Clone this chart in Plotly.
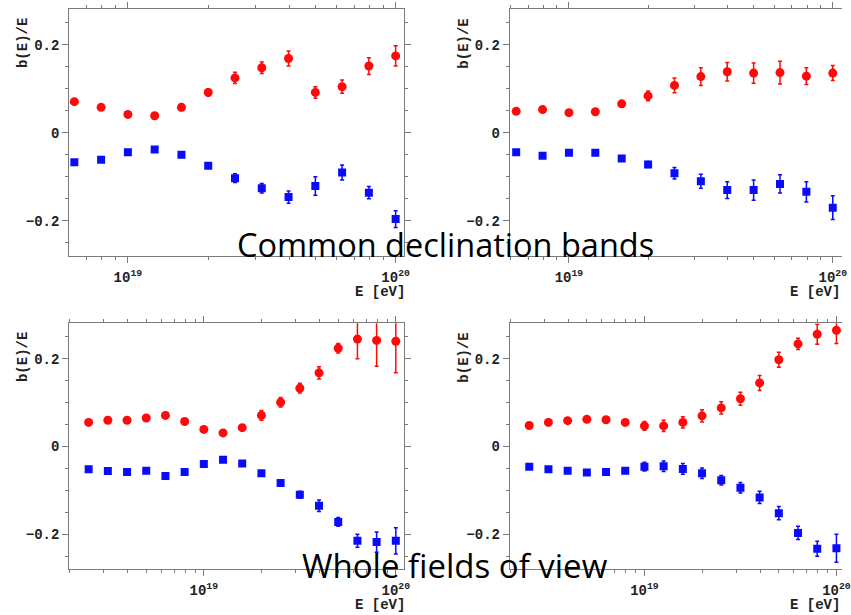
import plotly.graph_objects as go

# ---------------- data ----------------
lg_top = [18.8, 18.9, 19.0, 19.1, 19.2, 19.3, 19.4, 19.5, 19.6, 19.7, 19.8, 19.9, 20.0]
lg_bot = [18.4, 18.5, 18.6, 18.7, 18.8, 18.9, 19.0, 19.1, 19.2, 19.3, 19.4, 19.5, 19.6,
          19.7, 19.8, 19.9, 20.0]

p1_red = [0.071, 0.058, 0.042, 0.039, 0.058, 0.092, 0.125, 0.148, 0.169, 0.092, 0.105, 0.152, 0.175]
p1_red_err = [0.006, 0.006, 0.005, 0.005, 0.007, 0.008, 0.013, 0.013, 0.017, 0.013, 0.015, 0.019, 0.023]
p1_blue = [-0.067, -0.061, -0.044, -0.038, -0.050, -0.075, -0.103, -0.126, -0.146, -0.121, -0.090, -0.136, -0.196]
p1_blue_err = [0.005, 0.006, 0.005, 0.004, 0.005, 0.005, 0.010, 0.011, 0.014, 0.021, 0.017, 0.014, 0.019]

p2_red = [0.049, 0.053, 0.046, 0.048, 0.066, 0.084, 0.108, 0.128, 0.139, 0.136, 0.137, 0.129, 0.136]
p2_red_err = [0.004, 0.004, 0.004, 0.004, 0.006, 0.011, 0.017, 0.020, 0.021, 0.023, 0.026, 0.019, 0.017]
p2_blue = [-0.044, -0.052, -0.045, -0.045, -0.058, -0.072, -0.092, -0.110, -0.130, -0.130, -0.116, -0.134, -0.170]
p2_blue_err = [0.004, 0.004, 0.004, 0.004, 0.005, 0.007, 0.013, 0.016, 0.019, 0.023, 0.021, 0.023, 0.027]

p3_red = [0.055, 0.060, 0.060, 0.065, 0.071, 0.057, 0.039, 0.031, 0.043, 0.071, 0.101, 0.133, 0.168,
          0.224, 0.245, 0.242, 0.240]
p3_red_err = [0.004, 0.004, 0.004, 0.004, 0.004, 0.004, 0.004, 0.004, 0.006, 0.011, 0.011, 0.011, 0.014,
              0.011, 0.045, 0.059, 0.072]
p3_blue = [-0.052, -0.056, -0.058, -0.055, -0.067, -0.058, -0.040, -0.030, -0.039, -0.061, -0.083, -0.110,
           -0.135, -0.172, -0.215, -0.218, -0.215]
p3_blue_err = [0.004, 0.004, 0.004, 0.004, 0.004, 0.004, 0.004, 0.004, 0.004, 0.006, 0.007, 0.008,
               0.013, 0.010, 0.015, 0.023, 0.030]

p4_red = [0.048, 0.055, 0.059, 0.062, 0.061, 0.055, 0.047, 0.047, 0.055, 0.070, 0.088, 0.109, 0.145,
          0.198, 0.234, 0.256, 0.265]
p4_red_err = [0.004, 0.004, 0.004, 0.004, 0.004, 0.006, 0.010, 0.013, 0.013, 0.014, 0.014, 0.015, 0.017,
              0.017, 0.013, 0.023, 0.030]
p4_blue = [-0.046, -0.052, -0.055, -0.059, -0.058, -0.055, -0.046, -0.045, -0.051, -0.061, -0.077, -0.094,
           -0.116, -0.152, -0.197, -0.233, -0.232]
p4_blue_err = [0.004, 0.004, 0.004, 0.004, 0.004, 0.005, 0.010, 0.012, 0.012, 0.012, 0.011, 0.012,
               0.014, 0.015, 0.015, 0.017, 0.032]

x_tickvals = [1e19, 1e20]
x_ticktext = ["10<sup>19</sup>", "10<sup>20</sup>"]
y_tickvals = [-0.2, 0, 0.2]
y_ticktext = ["\u22120.2", "0", "0.2"]
y_title = "b(E)/E"
x_title = "E [eV]"
caption_top = "Common declination bands"
caption_bottom = "Whole fields of view"

RED = "#ff0a0a"
BLUE = "#0a0aff"

W, H = 851, 615

panels = [
    # (lg, red, red_err, blue, blue_err, x0px, x1px, ytop_px, ybot_px, xrange)
    (lg_top, p1_red, p1_red_err, p1_blue, p1_blue_err, 70, 408, 9.3, 256, [18.781, 20.03]),
    (lg_top, p2_red, p2_red_err, p2_blue, p2_blue_err, 515.3, 851, 9.3, 256, [18.776, 20.035]),
    (lg_bot, p3_red, p3_red_err, p3_blue, p3_blue_err, 70, 408, 323.3, 569.3, [18.299, 20.041]),
    (lg_bot, p4_red, p4_red_err, p4_blue, p4_blue_err, 515.3, 851, 323.3, 569.3, [18.299, 20.029]),
]

tickfont = dict(family="Liberation Mono", size=14, color="#222", weight="bold")
axcol = "#7a7a7a"

minor_x = [float(m) * 10.0 ** d for d in (18, 19) for m in range(2, 10)]

fig = go.Figure()
layout = {}
annotations = []
for i, (lg, red, rerr, blue, berr, x0, x1, yt, yb, xr) in enumerate(panels, start=1):
    E = [10.0 ** v for v in lg]
    xa = "x" if i == 1 else f"x{i}"
    ya = "y" if i == 1 else f"y{i}"
    fig.add_trace(go.Scatter(
        x=E, y=red, mode="markers", xaxis=xa, yaxis=ya, showlegend=False,
        marker=dict(symbol="circle", size=9, color=RED),
        error_y=dict(type="data", array=rerr, color=RED, thickness=1.5, width=2)))
    fig.add_trace(go.Scatter(
        x=E, y=blue, mode="markers", xaxis=xa, yaxis=ya, showlegend=False,
        marker=dict(symbol="square", size=8, color=BLUE),
        error_y=dict(type="data", array=berr, color=BLUE, thickness=1.5, width=2)))
    right_edge = x1 >= W
    layout["xaxis" if i == 1 else f"xaxis{i}"] = dict(
        type="log", range=xr, domain=[x0 / W, min(x1 / W, 1.0)], anchor=ya,
        tickvals=x_tickvals, ticktext=x_ticktext,
        ticks="outside", ticklen=6, tickcolor=axcol, tickwidth=1,
        minor=dict(tickvals=minor_x, ticks="outside", ticklen=3, tickcolor=axcol),
        showline=True, linecolor=axcol, linewidth=1.2, mirror="allticks",
        showgrid=False, zeroline=False, tickfont=tickfont,
        ticklabeloverflow="allow", ticklabelstandoff=2)
    layout["yaxis" if i == 1 else f"yaxis{i}"] = dict(
        range=[-0.28, 0.281], domain=[1 - yb / H, 1 - yt / H], anchor=xa,
        tickvals=y_tickvals, ticktext=y_ticktext,
        ticks="outside", ticklen=6, tickcolor=axcol, tickwidth=1,
        minor=dict(dtick=0.05, ticks="outside", ticklen=3, tickcolor=axcol),
        showline=True, linecolor=axcol, linewidth=1.2,
        mirror=False if right_edge else "allticks",
        showgrid=False, zeroline=False, tickfont=tickfont)
    # axis titles
    if right_edge:
        xt_pos, xt_anchor = 796 / W, "left"
    else:
        xt_pos, xt_anchor = (x1 + 3) / W, "right"
    annotations.append(dict(
        text=x_title, xref="paper", yref="paper", showarrow=False,
        x=xt_pos, xanchor=xt_anchor,
        y=1 - (yb + 36) / H, yanchor="middle",
        font=dict(family="Liberation Mono", size=14, color="#222", weight="bold")))
    annotations.append(dict(
        text=y_title, xref="paper", yref="paper", showarrow=False, textangle=-90,
        x=(x0 - 46) / W, xanchor="center",
        y=1 - (yt + 34) / H, yanchor="middle",
        font=dict(family="Liberation Mono", size=14, color="#222", weight="bold")))

annotations.append(dict(
    text=caption_top, xref="paper", yref="paper", showarrow=False,
    x=450 / W, y=1 - 244 / H, xanchor="center", yanchor="middle",
    font=dict(family="Open Sans", size=32.5, color="#000")))
annotations.append(dict(
    text=caption_bottom, xref="paper", yref="paper", showarrow=False,
    x=460 / W, y=1 - 565 / H, xanchor="center", yanchor="middle",
    font=dict(family="Open Sans", size=33, color="#000")))

fig.update_layout(
    width=W, height=H, margin=dict(l=0, r=0, t=0, b=0),
    paper_bgcolor="white", plot_bgcolor="white",
    annotations=annotations, **layout)

fig.write_html("out.html")
